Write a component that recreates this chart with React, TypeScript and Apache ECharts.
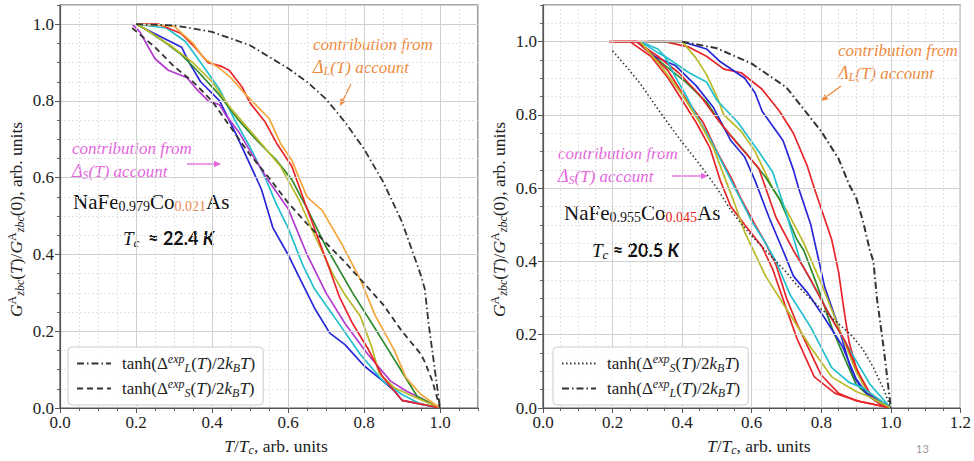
import React, { useEffect, useRef } from 'react';
import * as echarts from 'echarts';

// ---------- Left panel (NaFe0.979Co0.021As) ----------
const leftBlue = [[0.2,1.0],[0.26,0.97],[0.32,0.94],[0.34,0.9],[0.37,0.85],[0.42,0.8],[0.46,0.72],[0.5,0.635],[0.53,0.57],[0.56,0.47],[0.6,0.4],[0.63,0.34],[0.67,0.26],[0.71,0.195],[0.75,0.165],[0.8,0.11],[0.85,0.07],[0.88,0.045],[0.9,0.02],[0.95,0.01],[1.0,0.0]];
const leftCyan = [[0.2,1.0],[0.28,0.99],[0.33,0.955],[0.37,0.9],[0.42,0.83],[0.46,0.75],[0.5,0.68],[0.54,0.6],[0.57,0.53],[0.6,0.47],[0.64,0.37],[0.67,0.31],[0.72,0.24],[0.79,0.14],[0.85,0.07],[0.9,0.035],[0.95,0.01],[1.0,0.0]];
const leftPurple = [[0.19,1.0],[0.21,0.98],[0.25,0.91],[0.285,0.88],[0.31,0.87],[0.335,0.86],[0.36,0.83],[0.39,0.8],[0.42,0.79],[0.435,0.765],[0.47,0.72],[0.5,0.67],[0.55,0.59],[0.6,0.52],[0.65,0.4],[0.7,0.3],[0.75,0.22],[0.81,0.14],[0.87,0.07],[0.91,0.045],[0.96,0.02],[1.0,0.0]];
const leftGreen = [[0.2,1.0],[0.22,0.99],[0.28,0.95],[0.32,0.92],[0.36,0.88],[0.42,0.815],[0.47,0.75],[0.52,0.695],[0.57,0.645],[0.61,0.595],[0.65,0.52],[0.7,0.42],[0.77,0.3],[0.84,0.19],[0.89,0.11],[0.94,0.03],[1.0,0.0]];
const leftOlive = [[0.2,1.0],[0.22,0.99],[0.29,0.945],[0.35,0.9],[0.4,0.85],[0.45,0.78],[0.52,0.7],[0.58,0.63],[0.63,0.54],[0.67,0.45],[0.72,0.345],[0.75,0.295],[0.79,0.24],[0.82,0.16],[0.84,0.09],[0.88,0.053],[0.93,0.03],[1.0,0.0]];
const leftRed = [[0.2,1.0],[0.26,1.0],[0.32,0.975],[0.35,0.945],[0.39,0.9],[0.425,0.89],[0.445,0.88],[0.48,0.835],[0.5,0.795],[0.54,0.745],[0.57,0.69],[0.61,0.63],[0.65,0.52],[0.68,0.44],[0.71,0.36],[0.735,0.29],[0.77,0.22],[0.81,0.155],[0.85,0.08],[0.9,0.02],[0.95,0.01],[1.0,0.0]];
const leftOrange = [[0.2,1.0],[0.3,0.995],[0.35,0.95],[0.38,0.91],[0.42,0.885],[0.45,0.86],[0.49,0.815],[0.53,0.775],[0.55,0.755],[0.58,0.69],[0.61,0.645],[0.65,0.55],[0.69,0.515],[0.74,0.43],[0.79,0.335],[0.83,0.24],[0.88,0.15],[0.91,0.08],[0.95,0.035],[1.0,0.0]];
const leftTanhL = [[0.2,1.0],[0.3,0.997],[0.4,0.98],[0.5,0.945],[0.6,0.885],[0.65,0.85],[0.7,0.805],[0.75,0.745],[0.8,0.675],[0.85,0.59],[0.9,0.485],[0.95,0.345],[0.96,0.31],[0.97,0.22],[0.985,0.11],[1.0,0.0]];
const leftTanhS = [[0.19,0.99],[0.25,0.94],[0.3,0.89],[0.35,0.85],[0.4,0.8],[0.45,0.73],[0.5,0.66],[0.55,0.6],[0.6,0.535],[0.65,0.48],[0.7,0.43],[0.75,0.38],[0.8,0.325],[0.85,0.27],[0.9,0.2],[0.95,0.14],[0.96,0.12],[0.98,0.07],[1.0,0.0]];

// ---------- Right panel (NaFe0.955Co0.045As) ----------
const rightRed1 = [[0.19,1.0],[0.35,1.0],[0.42,0.985],[0.47,0.96],[0.52,0.925],[0.57,0.915],[0.63,0.87],[0.68,0.81],[0.72,0.75],[0.76,0.66],[0.78,0.6],[0.83,0.46],[0.85,0.37],[0.865,0.27],[0.88,0.18],[0.9,0.11],[0.94,0.03],[0.97,0.01],[1.0,0.0]];
const rightBlue1 = [[0.3,1.0],[0.4,1.0],[0.47,0.98],[0.51,0.945],[0.58,0.9],[0.61,0.86],[0.63,0.81],[0.69,0.73],[0.72,0.65],[0.735,0.6],[0.77,0.5],[0.81,0.33],[0.85,0.22],[0.89,0.09],[0.92,0.05],[0.96,0.02],[1.0,0.0]];
const rightOlive1 = [[0.3,1.0],[0.4,1.0],[0.44,0.955],[0.47,0.91],[0.5,0.85],[0.52,0.8],[0.57,0.755],[0.61,0.7],[0.66,0.6],[0.7,0.54],[0.75,0.45],[0.8,0.34],[0.85,0.22],[0.9,0.1],[0.94,0.03],[1.0,0.0]];
const rightGreen = [[0.27,1.0],[0.35,0.935],[0.41,0.89],[0.47,0.835],[0.52,0.765],[0.58,0.7],[0.64,0.63],[0.68,0.57],[0.73,0.46],[0.75,0.43],[0.79,0.33],[0.83,0.22],[0.87,0.13],[0.9,0.065],[0.94,0.03],[1.0,0.0]];
const rightCyan1 = [[0.28,1.0],[0.33,0.97],[0.35,0.96],[0.42,0.915],[0.47,0.89],[0.5,0.84],[0.56,0.78],[0.62,0.7],[0.66,0.645],[0.7,0.53],[0.74,0.4],[0.78,0.33],[0.83,0.245],[0.89,0.145],[0.94,0.065],[1.0,0.0]];
const rightBlue2 = [[0.27,1.0],[0.32,0.96],[0.38,0.935],[0.44,0.88],[0.49,0.82],[0.54,0.73],[0.58,0.685],[0.61,0.62],[0.65,0.52],[0.69,0.43],[0.72,0.36],[0.76,0.315],[0.81,0.245],[0.86,0.17],[0.9,0.08],[0.93,0.04],[1.0,0.0]];
const rightRed2 = [[0.19,1.0],[0.27,1.0],[0.33,0.96],[0.39,0.915],[0.45,0.855],[0.5,0.79],[0.56,0.72],[0.62,0.655],[0.67,0.52],[0.72,0.43],[0.77,0.35],[0.82,0.26],[0.87,0.18],[0.905,0.1],[0.94,0.04],[1.0,0.0]];
const rightRed3 = [[0.2,1.0],[0.27,1.0],[0.3,0.975],[0.36,0.92],[0.41,0.845],[0.46,0.78],[0.5,0.7],[0.54,0.63],[0.57,0.57],[0.61,0.5],[0.64,0.45],[0.67,0.39],[0.7,0.3],[0.73,0.23],[0.77,0.15],[0.8,0.09],[0.85,0.04],[0.9,0.02],[1.0,0.0]];
const rightRed4 = [[0.25,1.0],[0.31,0.96],[0.36,0.9],[0.4,0.84],[0.44,0.78],[0.48,0.71],[0.51,0.62],[0.54,0.55],[0.58,0.5],[0.63,0.44],[0.66,0.38],[0.7,0.27],[0.73,0.19],[0.78,0.085],[0.84,0.04],[0.91,0.018],[1.0,0.0]];
const rightCyan2 = [[0.28,1.0],[0.33,0.98],[0.35,0.96],[0.38,0.905],[0.41,0.855],[0.44,0.8],[0.48,0.735],[0.52,0.66],[0.56,0.585],[0.6,0.51],[0.64,0.45],[0.67,0.4],[0.71,0.31],[0.77,0.22],[0.83,0.11],[0.88,0.07],[0.92,0.055],[1.0,0.0]];
const rightOlive2 = [[0.28,1.0],[0.35,0.92],[0.4,0.855],[0.45,0.78],[0.49,0.71],[0.52,0.635],[0.55,0.56],[0.58,0.48],[0.64,0.36],[0.71,0.255],[0.77,0.165],[0.83,0.085],[0.9,0.045],[0.94,0.03],[1.0,0.0]];
const rightTanhS = [[0.2,0.975],[0.25,0.92],[0.28,0.885],[0.32,0.83],[0.35,0.79],[0.4,0.725],[0.43,0.69],[0.47,0.64],[0.5,0.6],[0.54,0.54],[0.56,0.515],[0.6,0.47],[0.64,0.43],[0.7,0.37],[0.73,0.335],[0.8,0.27],[0.85,0.23],[0.89,0.195],[0.92,0.16],[0.95,0.11],[0.98,0.05],[1.0,0.0]];
const rightTanhL = [[0.4,1.0],[0.5,0.982],[0.6,0.94],[0.7,0.875],[0.8,0.755],[0.85,0.68],[0.88,0.61],[0.9,0.575],[0.92,0.51],[0.94,0.43],[0.95,0.4],[0.96,0.3],[0.98,0.16],[1.0,0.0]];

// tick labels
const xTicksLeft = ['0.0', '0.2', '0.4', '0.6', '0.8', '1.0'];
const xTicksRight = ['0.0', '0.2', '0.4', '0.6', '0.8', '1.0', '1.2'];
const yTicks = ['0.0', '0.2', '0.4', '0.6', '0.8', '1.0'];

const SERIF = 'Liberation Serif';
const SANS = 'Lato';

const C = {
  blue: '#2727d8', cyan: '#22bfcf', purple: '#b23cd2', green: '#2d8a2d',
  olive: '#b9b92a', red: '#e8262a', orange: '#f4a73c', black: '#333333',
  annOrange: '#ee8a3e', annPink: '#e466dc',
};

const DASHDOT = [7, 3, 1.5, 3];
const DASHED = [6, 4];
const DOTTED = [1.5, 2.5];

const axisRich = {
  r: { fontFamily: SERIF, fontSize: 17, color: '#222', lineHeight: 20 },
  i: { fontFamily: SERIF, fontSize: 17, fontStyle: 'italic', color: '#222', lineHeight: 20 },
  sup: { fontFamily: SERIF, fontSize: 12, fontStyle: 'italic', color: '#222', padding: [0, 0, 9, 0], lineHeight: 20 },
  sub: { fontFamily: SERIF, fontSize: 12, fontStyle: 'italic', color: '#222', padding: [8, 0, 0, 0], lineHeight: 20 },
};
const axisNameRich = {
  r: { ...axisRich.r, fontSize: 17.5 },
  i: { ...axisRich.i, fontSize: 17.5 },
  sup: { ...axisRich.sup, fontStyle: 'normal', fontSize: 12 },
  sub: { ...axisRich.sub, fontSize: 12 },
};

const yName = '{i|G}{sup|A}{sub|zbc}{r|(}{i|T}{r|)/}{i|G}{sup|A}{sub|zbc}{r|(0), arb. units}';
const xName = '{i|T}{r|/}{i|T}{sub|c}{r|, arb. units}';
const legendLabel = (k: string) =>
  `{r|tanh(Δ}{sup|exp}{sub|${k}}{r|(}{i|T}{r|)/2}{i|k}{sub|B}{i|T}{r|)}`;

function fmt(v: number, list: string[]) {
  const s = v.toFixed(1);
  return list.indexOf(s) >= 0 ? s : '';
}

function majorX(gridIndex: number, max: number, ticks: string[]) {
  return {
    type: 'value', gridIndex, min: 0, max, interval: 0.2, position: 'bottom', z: 3,
    name: xName, nameLocation: 'middle', nameGap: 28,
    nameTextStyle: { rich: axisNameRich, padding: [0, 0, 0, 14] },
    axisLine: { show: true, onZero: false, lineStyle: { color: '#555', width: 1.2 } },
    axisTick: { show: true, length: 5, lineStyle: { color: '#555' } },
    axisLabel: { show: true, margin: 6, color: '#222', fontFamily: SERIF, fontSize: 17, showMaxLabel: max === 1.2, formatter: (v: number) => fmt(v, ticks) },
    splitLine: { show: true, lineStyle: { color: '#cfcfcf', width: 1 } },
  };
}
function minorX(gridIndex: number, max: number) {
  return {
    type: 'value', gridIndex, min: 0, max, interval: 0.05, position: 'bottom', z: 1,
    axisLine: { show: false }, axisLabel: { show: false },
    axisTick: { show: true, length: 3, lineStyle: { color: '#666' } },
    splitLine: { show: true, lineStyle: { color: '#e2e2e2', width: 1, type: [2, 2] } },
  };
}
function majorY(gridIndex: number, max: number, gap: number) {
  return {
    type: 'value', gridIndex, min: 0, max, interval: 0.2, position: 'left', z: 3,
    name: yName, nameLocation: 'middle', nameGap: gap, nameRotate: 90,
    nameTextStyle: { rich: axisNameRich, padding: [0, 26, 0, 0] },
    axisLine: { show: true, onZero: false, lineStyle: { color: '#555', width: 1.2 } },
    axisTick: { show: true, length: 5, lineStyle: { color: '#555' } },
    axisLabel: { show: true, margin: 6, color: '#222', fontFamily: SERIF, fontSize: 17, showMaxLabel: false, formatter: (v: number) => fmt(v, yTicks) },
    splitLine: { show: true, lineStyle: { color: '#cfcfcf', width: 1 } },
  };
}
function minorY(gridIndex: number, max: number) {
  return {
    type: 'value', gridIndex, min: 0, max, interval: 0.05, position: 'left', z: 1,
    axisLine: { show: false }, axisLabel: { show: false },
    axisTick: { show: true, length: 3, lineStyle: { color: '#666' } },
    splitLine: { show: true, lineStyle: { color: '#e2e2e2', width: 1, type: [2, 2] } },
  };
}

function line(name: string, data: number[][], color: string, panel: number, type: any = 'solid', width = 1.7) {
  const ax = panel === 0 ? 0 : 2;
  return {
    name, type: 'line', data, xAxisIndex: ax, yAxisIndex: ax,
    symbol: 'none', showSymbol: false, smooth: false, silent: true,
    emphasis: { disabled: true },
    lineStyle: { color, width, type },
    itemStyle: { color },
    z: type === 'solid' ? 2 : 4,
  };
}

function arrow(x1: number, y1: number, x2: number, y2: number, color: string) {
  const a = Math.atan2(y2 - y1, x2 - x1);
  const L = 7, W = 3.2;
  const bx = x2 - L * Math.cos(a), by = y2 - L * Math.sin(a);
  const px = -Math.sin(a) * W, py = Math.cos(a) * W;
  return [
    { type: 'line', silent: true, shape: { x1, y1, x2: bx, y2: by }, style: { stroke: color, lineWidth: 1.3 } },
    { type: 'polygon', silent: true, shape: { points: [[x2, y2], [bx + px, by + py], [bx - px, by - py]] }, style: { fill: color } },
  ];
}

function annRich(color: string) {
  return {
    t: { fontFamily: SERIF, fontSize: 17, fontStyle: 'italic', fill: color, color, lineHeight: 20 },
    d: { fontFamily: SERIF, fontSize: 18, fontStyle: 'italic', fill: color, color, lineHeight: 20 },
    sub: { fontFamily: SERIF, fontSize: 12, fontStyle: 'italic', fill: color, color, padding: [8, 0, 0, 0], lineHeight: 20 },
  };
}
function annotation(x: number, y: number, k: string, color: string) {
  return [
    { type: 'text', silent: true, x, y, style: { text: '{t|contribution from}', rich: annRich(color), align: 'left', verticalAlign: 'middle' } },
    { type: 'text', silent: true, x, y: y + 23, style: { text: `{d|Δ}{sub|${k}}{t|(T) account}`, rich: annRich(color), align: 'left', verticalAlign: 'middle' } },
  ];
}
function formula(x: number, y: number, a: string, b: string, bColor: string) {
  return {
    type: 'text', silent: true, x, y,
    style: {
      text: `{n|NaFe}{s|${a}}{n|Co}{c|${b}}{n|As}`, align: 'left', verticalAlign: 'middle',
      rich: {
        n: { fontFamily: SERIF, fontSize: 21, fill: '#111', lineHeight: 26 },
        s: { fontFamily: SERIF, fontSize: 14, fill: '#111', padding: [9, 0, 0, 0], lineHeight: 26 },
        c: { fontFamily: SERIF, fontSize: 14, fill: bColor, padding: [9, 0, 0, 0], lineHeight: 26 },
      },
    },
  };
}
function tcText(x: number, y: number, val: string, spaced: boolean) {
  return {
    type: 'text', silent: true, x, y,
    style: {
      text: `{t|T}{c|c}{b|${spaced ? '  ' : ' '}≈ ${val} }{k|K}`, align: 'left', verticalAlign: 'middle',
      rich: {
        t: { fontFamily: SERIF, fontSize: 19, fontStyle: 'italic', fill: '#111', lineHeight: 24 },
        c: { fontFamily: SERIF, fontSize: 13, fontStyle: 'italic', fill: '#111', padding: [8, 0, 0, 0], lineHeight: 24 },
        b: { fontFamily: SANS, fontSize: 18, fontWeight: 'bold', fill: '#111', lineHeight: 24 },
        k: { fontFamily: SANS, fontSize: 18, fontWeight: 'bold', fontStyle: 'italic', fill: '#111', lineHeight: 24 },
      },
    },
  };
}

function legendCfg(left: number, data: string[]) {
  return {
    show: true, orient: 'vertical', left, top: 347, data, selectedMode: false,
    padding: [6, 8, 6, 8], itemGap: 4, itemWidth: 34, itemHeight: 16,
    backgroundColor: 'rgba(255,255,255,0.9)', borderColor: '#cccccc', borderWidth: 1, borderRadius: 4,
    itemStyle: { opacity: 0 },
    formatter: (name: string) => legendLabel(name.charAt(0) === 'L' ? 'L' : 'S'),
    textStyle: { rich: axisRich, padding: [0, 0, 0, 6] },
  };
}

export default function App() {
  const ref = useRef<HTMLDivElement>(null);
  useEffect(() => {
    document.body.style.margin = '0';
    if (!ref.current) return;
    const chart = echarts.init(ref.current, null, { renderer: 'svg' });
    const option: any = {
      animation: false,
      backgroundColor: '#ffffff',
      grid: [
        { left: 60, top: 5, width: 418, height: 409, show: true, borderColor: '#555', borderWidth: 1.2, backgroundColor: 'transparent' },
        { left: 543, top: 5, width: 420, height: 409, show: true, borderColor: '#555', borderWidth: 1.2, backgroundColor: 'transparent' },
      ],
      xAxis: [majorX(0, 1.1, xTicksLeft), minorX(0, 1.1), majorX(1, 1.2, xTicksRight), minorX(1, 1.2)],
      yAxis: [majorY(0, 1.05, 34), minorY(0, 1.05), majorY(1, 1.1, 34), minorY(1, 1.1)],
      legend: [legendCfg(68, ['L_left', 'S_left']), legendCfg(553, ['S_right', 'L_right'])],
      series: [
        line('blue', leftBlue, C.blue, 0),
        line('cyan', leftCyan, C.cyan, 0),
        line('purple', leftPurple, C.purple, 0),
        line('green', leftGreen, C.green, 0),
        line('olive', leftOlive, C.olive, 0),
        line('red', leftRed, C.red, 0),
        line('orange', leftOrange, C.orange, 0),
        line('L_left', leftTanhL, C.black, 0, DASHDOT, 1.8),
        line('S_left', leftTanhS, C.black, 0, DASHED, 1.8),
        line('r1', rightRed1, C.red, 1),
        line('b1', rightBlue1, C.blue, 1),
        line('o1', rightOlive1, C.olive, 1),
        line('g', rightGreen, C.green, 1),
        line('c1', rightCyan1, C.cyan, 1),
        line('b2', rightBlue2, C.blue, 1),
        line('r2', rightRed2, C.red, 1),
        line('r3', rightRed3, C.red, 1),
        line('r4', rightRed4, C.red, 1),
        line('c2', rightCyan2, C.cyan, 1),
        line('o2', rightOlive2, C.olive, 1),
        line('S_right', rightTanhS, C.black, 1, DOTTED, 1.6),
        line('L_right', rightTanhL, C.black, 1, DASHDOT, 2),
      ],
      graphic: [
        ...annotation(313, 44, 'L', C.annOrange),
        ...arrow(351, 84, 340, 106, C.annOrange),
        ...annotation(72, 148, 'S', C.annPink),
        ...arrow(187, 164, 221, 164, C.annPink),
        ...annotation(838, 50, 'L', C.annOrange),
        ...arrow(841, 86, 821, 101, C.annOrange),
        ...annotation(558, 153, 'S', C.annPink),
        ...arrow(672, 176, 708, 176, C.annPink),
        formula(73, 202, '0.979', '0.021', '#e8884a'),
        tcText(123, 238, '22.4', true),
        formula(564, 213, '0.955', '0.045', '#e82020'),
        tcText(592, 250, '20.5', false),
        { type: 'text', silent: true, x: 916, y: 448, style: { text: '13', fill: '#999', fontFamily: SANS, fontSize: 11, align: 'left', verticalAlign: 'middle' } },
      ],
    };
    chart.setOption(option);
    return () => chart.dispose();
  }, []);
  return <div ref={ref} style={{ width: 974, height: 461 }} />;
}
